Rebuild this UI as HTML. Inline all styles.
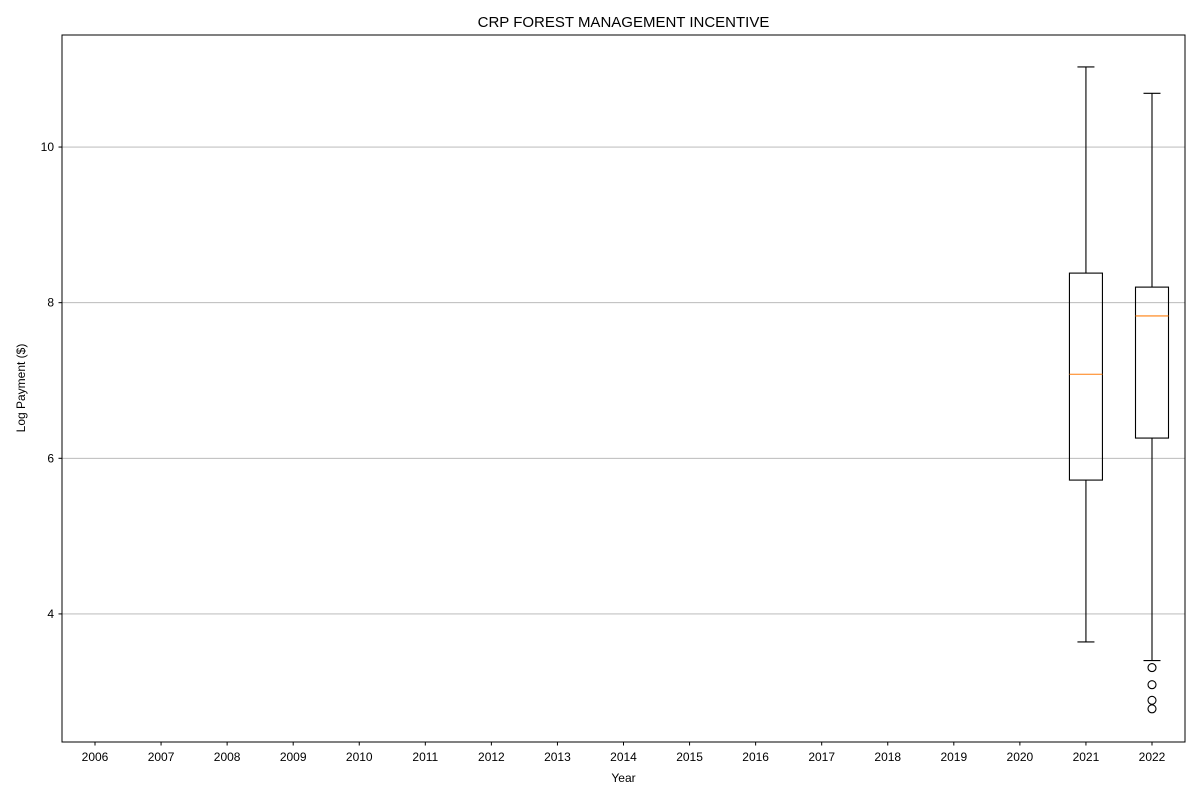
<!DOCTYPE html>
<html><head><meta charset="utf-8"><style>
body{margin:0;background:#fff;font-family:"Liberation Sans",sans-serif;}
svg text{font-family:"Liberation Sans",sans-serif;fill:#000;}
</style></head><body>
<svg id="chart" width="1200" height="800">
<text x="623.5" y="27" font-size="15" text-anchor="middle">CRP FOREST MANAGEMENT INCENTIVE</text>
<text x="623.5" y="782" font-size="12" text-anchor="middle">Year</text>
<text x="25" y="388" font-size="12" text-anchor="middle" transform="rotate(-90 25 388)">Log Payment ($)</text>
<g id="grid"></g><g id="axes"></g><g id="marks"></g>
</svg>
<script>
const categories=["2006","2007","2008","2009","2010","2011","2012","2013","2014","2015","2016","2017","2018","2019","2020","2021","2022"];
const boxYears=["2021","2022"];
const whiskerHigh=[11.03,10.69];
const q3=[8.38,8.20];
const medians=[7.08,7.83];
const q1=[5.72,6.26];
const whiskerLow=[3.64,3.40];
const outliers2021=[];
const outliers2022=[3.31,3.09,2.89,2.78];
const yTicks=[4,6,8,10];
const L=62,R=1185,T=35,B=742,yMin=2.354,yMax=11.44;
const NS="http://www.w3.org/2000/svg";
function xS(c){const i=categories.indexOf(c);return 95+i*(1152-95)/(categories.length-1);}
function yS(v){return B-(v-yMin)/(yMax-yMin)*(B-T);}
function el(t,a,p){const e=document.createElementNS(NS,t);for(const k in a)e.setAttribute(k,a[k]);document.getElementById(p).appendChild(e);return e;}
yTicks.forEach(v=>{
 const g=el("line",{x1:L,x2:R,y1:yS(v),y2:yS(v),stroke:"#b0b0b0","stroke-width":0.8},"grid");
 
 
 const t=el("line",{x1:L-3.5,x2:L,y1:yS(v),y2:yS(v),stroke:"#000"},"axes");
 
 
 const tx=el("text",{x:L-8,y:yS(v)+4,"font-size":12,"text-anchor":"end"},"axes");tx.textContent=v;
 
 
});
categories.forEach(c=>{
 const t=el("line",{x1:xS(c),x2:xS(c),y1:B,y2:B+3.5,stroke:"#000"},"axes");
 
 
 const tx=el("text",{x:xS(c),y:B+19,"font-size":12,"text-anchor":"middle"},"axes");tx.textContent=c;
 
 
});
const fr=el("rect",{x:L,y:T,width:R-L,height:B-T,fill:"none",stroke:"#000","stroke-width":1},"axes");


const outs=[outliers2021,outliers2022];
boxYears.forEach((yr,i)=>{
 const x=xS(yr),hw=16.5,cw=8.5;
 const add=(t,a,n)=>{const e=el(t,Object.assign({stroke:"#000","stroke-width":1.1,fill:"none"},a),"marks");return e;};
 add("line",{x1:x,x2:x,y1:yS(whiskerHigh[i]),y2:yS(q3[i])},"whisker-upper-"+yr);
 add("line",{x1:x,x2:x,y1:yS(q1[i]),y2:yS(whiskerLow[i])},"whisker-lower-"+yr);
 add("line",{x1:x-cw,x2:x+cw,y1:yS(whiskerHigh[i]),y2:yS(whiskerHigh[i])},"cap-upper-"+yr);
 add("line",{x1:x-cw,x2:x+cw,y1:yS(whiskerLow[i]),y2:yS(whiskerLow[i])},"cap-lower-"+yr);
 add("rect",{x:x-hw,y:yS(q3[i]),width:2*hw,height:yS(q1[i])-yS(q3[i])},"box-"+yr);
 add("line",{x1:x-hw,x2:x+hw,y1:yS(medians[i]),y2:yS(medians[i]),stroke:"#ff7f0e"},"median-"+yr);
 outs[i].forEach(v=>add("circle",{cx:x,cy:yS(v),r:4},"outlier-"+yr));
});
</script>
</body></html>
